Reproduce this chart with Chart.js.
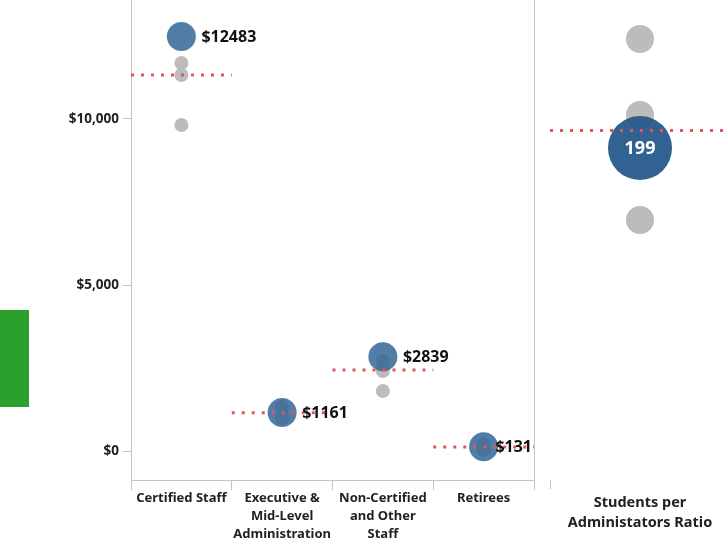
<!DOCTYPE html>
<html>
<head>
<meta charset="utf-8">
<script src="https://cdn.jsdelivr.net/npm/chart.js@4.4.1/dist/chart.umd.min.js"></script>
<style>
  html, body { margin: 0; padding: 0; background: #fff; overflow: hidden; }
  #main { position: absolute; left: 0; top: 0; }
  #ratio { position: absolute; left: 540px; top: 0; }
  #swatch { position: absolute; left: 0; top: 310px; width: 29px; height: 97px; background: #2ca02c; }
</style>
</head>
<body>
<div id="swatch"></div>
<canvas id="main" width="540" height="539"></canvas>
<canvas id="ratio" width="190" height="539"></canvas>

<script>
  // cost per student, by category
  const categories = [
    ["Certified Staff"],
    ["Executive &", "Mid-Level", "Administration"],
    ["Non-Certified", "and Other", "Staff"],
    ["Retirees"],
  ];
  const districtCost = [12483, 1161, 2839, 131];
  const peerCostA = [11687, 1330, 2711, 210];
  const peerCostB = [11325, 1130, 2410, 110];
  const peerCostC = [9819, 990, 1807, 30];
  const costTicks = [0, 5000, 10000];

  // students per administrator
  const ratioLabel = [["Students per", "Administators Ratio"]];
  const districtRatio = [199];
  const peerRatio = [253.5, 215.5, 163];

  const FONT = "'Noto Sans', sans-serif";
  const BLUE = "rgba(52, 102, 150, 0.85)";
  const DARK_BLUE = "rgba(38, 90, 140, 0.95)";
  const GRAY = "#bcbcbc";
  const RED = "#e15759";
  const AXIS = "#c4c4c4";

  // labels next to the highlighted marks
  const valueLabels = {
    id: "valueLabels",
    afterDatasetsDraw(chart, args, opts) {
      const meta = chart.getDatasetMeta(opts.dataset);
      const ctx = chart.ctx;
      ctx.save();
      ctx.font = opts.font;
      ctx.fillStyle = opts.color;
      ctx.textBaseline = "middle";
      ctx.textAlign = "left";
      meta.data.forEach((pt, i) => {
        const text = opts.format(chart.data.datasets[opts.dataset].data[i].y);
        const w = ctx.measureText(text).width;
        let x = opts.centered ? pt.x - w / 2 : pt.x + opts.dx;
        if (!opts.centered) x = Math.min(x, chart.chartArea.right - w - 2);
        ctx.fillText(text, x, pt.y + 1);
      });
      ctx.restore();
    },
  };

  function mean(vals) {
    return vals.reduce((a, b) => a + b, 0) / vals.length;
  }

  function noPad(s) {
    s.paddingTop = 0;
    s.paddingBottom = 0;
    s.paddingLeft = 0;
    s.paddingRight = 0;
  }

  // main panel
  const avgLines = categories.map((c, i) => {
    const avg = mean([districtCost[i], peerCostA[i], peerCostB[i], peerCostC[i]]);
    return {
      data: [{ x: i - 0.5, y: avg }, { x: i + 0.5, y: avg }],
      xAxisID: "xl",
      showLine: true,
      pointRadius: 0,
      borderColor: RED,
      borderWidth: 3,
      borderDash: [3, 7],
      order: 0,
      clip: false,
    };
  });

  const peerPoints = [];
  [peerCostA, peerCostB, peerCostC].forEach((arr) => {
    arr.forEach((v, i) => peerPoints.push({ x: i, y: v }));
  });

  new Chart(document.getElementById("main").getContext("2d"), {
    type: "scatter",
    data: {
      datasets: [
        ...avgLines,
        {
          data: districtCost.map((v, i) => ({ x: i, y: v })),
          xAxisID: "xl",
          pointRadius: 14.5,
          backgroundColor: BLUE,
          borderWidth: 0,
          order: 1,
          clip: false,
        },
        {
          data: peerPoints,
          xAxisID: "xl",
          pointRadius: 7,
          backgroundColor: GRAY,
          borderWidth: 0,
          order: 2,
          clip: false,
        },
      ],
    },
    options: {
      responsive: false,
      animation: false,
      layout: { padding: 0, autoPadding: false },
      plugins: {
        legend: { display: false },
        tooltip: { enabled: false },
        valueLabels: {
          dataset: categories.length,
          font: "bold 16px " + FONT,
          color: "#111",
          dx: 20,
          format: (v) => "$" + v,
        },
      },
      scales: {
        x: {
          type: "category",
          labels: categories,
          offset: true,
          grid: { offset: true, drawOnChartArea: false, tickLength: 10, color: AXIS },
          border: { color: AXIS },
          ticks: {
            font: { family: FONT, weight: "bold", size: 13, lineHeight: 18 / 13 },
            color: "#222",
            padding: -1,
            maxRotation: 0,
            autoSkip: false,
          },
          afterFit(s) { s.height = 59; noPad(s); },
        },
        xl: { type: "linear", display: false, min: -0.5, max: 3.5 },
        y: {
          type: "linear",
          min: -873,
          max: 13584,
          afterBuildTicks(s) { s.ticks = costTicks.map((v) => ({ value: v })); },
          grid: { drawOnChartArea: false, tickLength: 8, color: AXIS },
          border: { color: AXIS },
          ticks: {
            font: { family: FONT, weight: "bold", size: 13.5 },
            color: "#222",
            padding: 4,
            callback: (v) => "$" + v.toLocaleString("en-US"),
          },
          afterFit(s) { s.width = 131; noPad(s); },
        },
        yr: {
          type: "linear",
          position: "right",
          ticks: { display: false },
          grid: { display: false },
          border: { color: AXIS },
          afterFit(s) { s.width = 6; noPad(s); },
        },
      },
    },
    plugins: [valueLabels],
  });

  // ratio panel
  const ratioAvg = mean([districtRatio[0], ...peerRatio]);

  new Chart(document.getElementById("ratio").getContext("2d"), {
    type: "scatter",
    data: {
      datasets: [
        {
          data: [{ x: -0.5, y: ratioAvg }, { x: 0.5, y: ratioAvg }],
          xAxisID: "xl",
          showLine: true,
          pointRadius: 0,
          borderColor: RED,
          borderWidth: 3,
          borderDash: [3, 7],
          order: 0,
          clip: false,
        },
        {
          data: districtRatio.map((v) => ({ x: 0, y: v })),
          xAxisID: "xl",
          pointRadius: 32,
          backgroundColor: DARK_BLUE,
          borderWidth: 0,
          order: 1,
          clip: false,
        },
        {
          data: peerRatio.map((v) => ({ x: 0, y: v })),
          xAxisID: "xl",
          pointRadius: 14,
          backgroundColor: GRAY,
          borderWidth: 0,
          order: 2,
          clip: false,
        },
      ],
    },
    options: {
      responsive: false,
      animation: false,
      layout: { padding: { left: 10 }, autoPadding: false },
      plugins: {
        legend: { display: false },
        tooltip: { enabled: false },
        valueLabels: {
          dataset: 1,
          centered: true,
          font: "bold 18px " + FONT,
          color: "#fff",
          format: (v) => String(v),
        },
      },
      scales: {
        x: {
          type: "category",
          labels: ratioLabel,
          offset: true,
          grid: { offset: true, drawOnChartArea: false, tickLength: 9, color: AXIS },
          border: { display: false },
          ticks: {
            font: { family: FONT, weight: "bold", size: 14.5, lineHeight: 20 / 14.5 },
            color: "#222",
            padding: 4,
            maxRotation: 0,
          },
          afterFit(s) { s.height = 59; noPad(s); },
        },
        xl: { type: "linear", display: false, min: -0.5, max: 0.5 },
        y: { type: "linear", display: false, min: 33, max: 273 },
      },
    },
    plugins: [valueLabels],
  });
</script>
</body>
</html>
